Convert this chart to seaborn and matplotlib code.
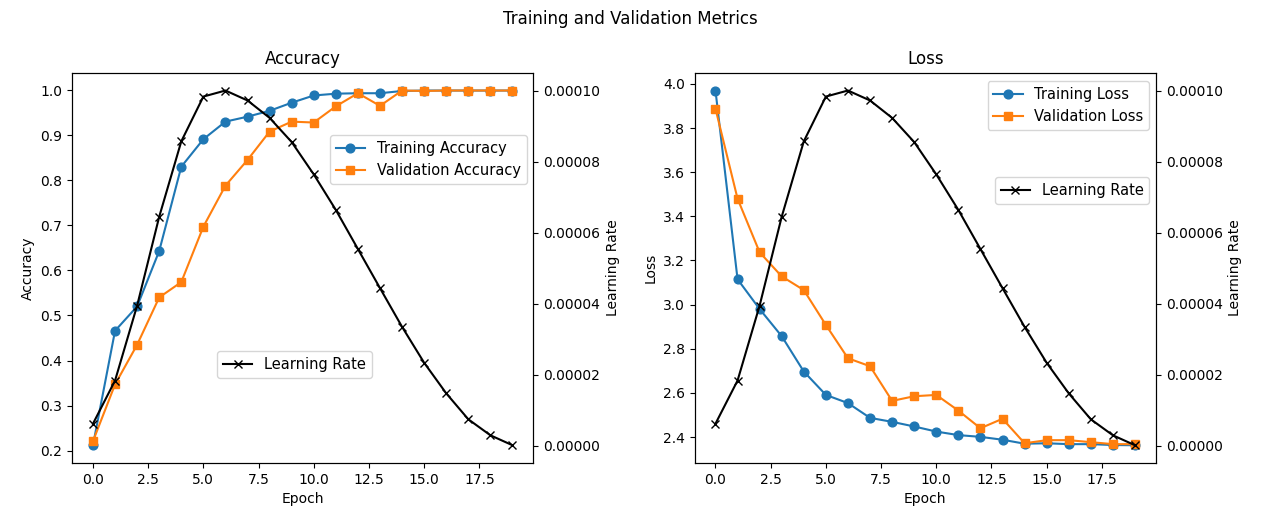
import matplotlib
matplotlib.use("Agg")
import matplotlib.pyplot as plt
import seaborn as sns
import numpy as np

epochs = list(range(20))
train_acc = [0.212, 0.466, 0.520, 0.643, 0.830, 0.891, 0.930, 0.941, 0.954, 0.972,
             0.988, 0.992, 0.993, 0.993, 0.998, 0.999, 0.999, 0.999, 0.999, 0.999]
val_acc = [0.221, 0.347, 0.435, 0.540, 0.574, 0.697, 0.788, 0.845, 0.908, 0.930,
           0.928, 0.964, 0.993, 0.965, 0.999, 0.998, 0.999, 0.999, 0.999, 0.999]
train_loss = [3.970, 3.115, 2.980, 2.857, 2.697, 2.591, 2.554, 2.487, 2.469, 2.448,
              2.425, 2.409, 2.401, 2.388, 2.370, 2.372, 2.368, 2.368, 2.364, 2.363]
val_loss = [3.888, 3.480, 3.237, 3.128, 3.066, 2.908, 2.757, 2.721, 2.564, 2.585,
            2.591, 2.520, 2.440, 2.483, 2.372, 2.386, 2.386, 2.377, 2.368, 2.368]
lr = [6.26e-6, 1.84e-5, 3.95e-5, 6.45e-5, 8.57e-5, 9.83e-5, 1.0e-4, 9.72e-5, 9.23e-5, 8.55e-5,
      7.64e-5, 6.64e-5, 5.54e-5, 4.44e-5, 3.35e-5, 2.34e-5, 1.48e-5, 7.5e-6, 3.0e-6, 2.0e-7]

BLUE = "#1f77b4"
ORANGE = "#ff7f0e"
LEG_FS = 10.5

fig, (ax1, ax2) = plt.subplots(1, 2, figsize=(12.61, 5.09), dpi=100)
fig.subplots_adjust(left=0.0571, right=0.9167, bottom=0.0904, top=0.857, wspace=0.349)
fig.suptitle("Training and Validation Metrics", fontsize=12)


def line(ax, y, color, marker, label):
    sns.lineplot(x=epochs, y=y, ax=ax, color=color, marker=marker, label=label,
                 markeredgecolor=color, markeredgewidth=1.0, markersize=6.3, linewidth=1.5)


# Accuracy
line(ax1, train_acc, BLUE, "o", "Training Accuracy")
line(ax1, val_acc, ORANGE, "s", "Validation Accuracy")
ax1.set_title("Accuracy", fontsize=12)
ax1.set_xlabel("Epoch")
ax1.set_ylabel("Accuracy")
ax1.legend(loc="upper right", bbox_to_anchor=(0.985, 0.840), borderaxespad=0, fontsize=LEG_FS)
ax1b = ax1.twinx()
line(ax1b, lr, "black", "x", "Learning Rate")
ax1b.set_ylabel("Learning Rate")
ax1b.legend(loc="lower left", bbox_to_anchor=(0.3145, 0.218), borderaxespad=0, fontsize=LEG_FS)

# Loss
line(ax2, train_loss, BLUE, "o", "Training Loss")
line(ax2, val_loss, ORANGE, "s", "Validation Loss")
ax2.set_title("Loss", fontsize=12)
ax2.set_xlabel("Epoch")
ax2.set_ylabel("Loss")
ax2.legend(loc="upper right", bbox_to_anchor=(0.9855, 0.9795), borderaxespad=0, fontsize=LEG_FS)
ax2b = ax2.twinx()
line(ax2b, lr, "black", "x", "Learning Rate")
ax2b.set_ylabel("Learning Rate")
ax2b.legend(loc="upper right", bbox_to_anchor=(0.9855, 0.732), borderaxespad=0, fontsize=LEG_FS)

fig.savefig("out.png", dpi=100)
